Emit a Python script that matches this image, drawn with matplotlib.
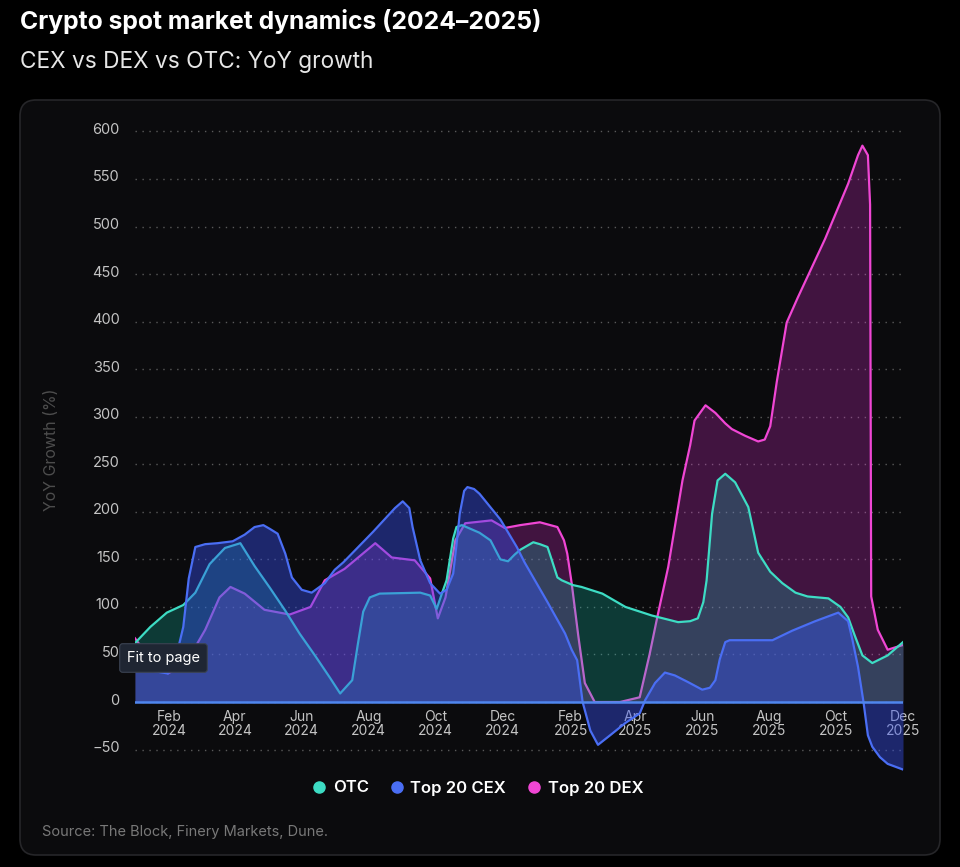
import matplotlib
matplotlib.use("Agg")
import matplotlib.pyplot as plt
import matplotlib.dates as mdates
import matplotlib.transforms as mtransforms
from matplotlib.patches import FancyBboxPatch
from matplotlib.lines import Line2D
import pandas as pd

plt.rcParams['font.family'] = ['Inter', 'DejaVu Sans']

# days since 2024-01-01 and YoY growth (%)
start = pd.Timestamp('2024-01-01')

otc_days = [0, 14, 29, 44, 55, 68, 82, 96, 109, 123,
            137, 150, 164, 178, 187, 198, 203, 208, 214, 223,
            260, 269, 275, 280, 284, 287, 290, 293, 298, 314,
            324, 333, 340, 346, 351, 363, 369, 376, 380, 385,
            389, 399, 407, 426, 447, 471, 495, 506, 513, 518,
            521, 526, 531, 538, 547, 559, 568, 579, 590, 602,
            613, 632, 643, 650, 656, 663, 672, 686, 700]
otc_vals = [62, 79, 94, 102, 115, 145, 162, 167, 143, 120,
            96, 72, 49, 25, 9, 23, 60, 95, 110, 114,
            115, 112, 98, 115, 128, 150, 172, 184, 186, 178,
            170, 150, 148, 155, 160, 168, 166, 163, 149, 131,
            128, 123, 121, 114, 100, 91, 84, 85, 88, 105,
            128, 198, 233, 240, 231, 205, 157, 137, 125, 115,
            111, 109, 100, 89, 70, 49, 41, 49, 63]

cex_days = [0, 15, 30, 37, 44, 49, 55, 64, 75, 89,
            100, 109, 117, 123, 130, 137, 143, 152, 161, 173,
            182, 190, 217, 237, 244, 250, 253, 260, 269, 278,
            284, 290, 293, 296, 300, 303, 309, 314, 333, 348,
            355, 376, 392, 398, 403, 408, 415, 422, 433, 447,
            460, 465, 474, 483, 492, 504, 517, 524, 529, 533,
            538, 542, 581, 599, 620, 641, 650, 654, 659, 664,
            668, 672, 679, 686, 700]
cex_vals = [45, 33, 30, 45, 79, 130, 163, 166, 167, 169,
            176, 184, 186, 182, 177, 156, 131, 118, 115, 125,
            139, 147, 179, 204, 211, 204, 184, 149, 125, 114,
            118, 135, 165, 198, 222, 226, 224, 219, 192, 163,
            147, 105, 72, 55, 44, 0, -30, -45, -35, -22,
            -12, 2, 20, 31, 28, 21, 13, 15, 23, 45,
            63, 65, 65, 75, 85, 94, 85, 65, 37, 0,
            -35, -47, -58, -65, -71]

dex_days = [0, 14, 30, 46, 64, 77, 87, 100, 118, 141,
            160, 173, 191, 219, 234, 255, 269, 276, 283, 292,
            301, 325, 337, 351, 369, 385, 391, 394, 398, 404,
            410, 419, 442, 460, 469, 476, 486, 499, 506, 510,
            520, 529, 538, 544, 556, 568, 574, 579, 585, 594,
            604, 629, 650, 659, 663, 668, 670, 671, 677, 686,
            700]
dex_vals = [67, 45, 30, 40, 76, 110, 121, 114, 97, 92,
            100, 128, 140, 167, 152, 149, 130, 88, 110, 170,
            188, 191, 183, 186, 189, 184, 170, 156, 125, 70,
            20, 0, 0, 5, 50, 89, 142, 233, 270, 296,
            312, 304, 293, 287, 280, 274, 276, 290, 337, 399,
            425, 487, 545, 575, 585, 575, 523, 111, 76, 55,
            60]

yticks = list(range(-50, 601, 50))

# (name, days, values, line colour, fill colour)
series = [
    ('Top 20 DEX', dex_days, dex_vals, '#f046d4', '#e632dc'),
    ('OTC', otc_days, otc_vals, '#3ddcc4', '#14c8b4'),
    ('Top 20 CEX', cex_days, cex_vals, '#4a6ef4', '#3650f0'),
]
legend_order = ['OTC', 'Top 20 CEX', 'Top 20 DEX']

fig = plt.figure(figsize=(9.6, 8.67), dpi=100, facecolor='#000000')

# card behind the chart
card = FancyBboxPatch((20, 867 - 855), 920, 755,
                      boxstyle='round,pad=0,rounding_size=16',
                      transform=mtransforms.IdentityTransform(),
                      facecolor='#0b0b0d', edgecolor='#262629', lw=1.2, zorder=-5)
fig.patches.append(card)

ax = fig.add_axes([135 / 960, 0.108, 768 / 960, 0.7536])
ax.set_facecolor('none')
ax.set_zorder(1)

fills = {'Top 20 DEX': 0.25, 'OTC': 0.25, 'Top 20 CEX': 0.42}
z = 2
for name, days, vals, lc, fc in series:
    d = start + pd.to_timedelta(days, unit='D')
    ax.fill_between(d, vals, 0, color=fc, alpha=fills[name], lw=0, zorder=z)
    ax.plot(d, vals, color=lc, lw=1.6, solid_joinstyle='round', zorder=z + 0.5)
    z += 1

ax.axhline(0, color='#4f86ee', lw=1.8, zorder=z)

ax.set_xlim(start, start + pd.Timedelta(days=700))
ax.set_ylim(-75, 612)
ax.set_yticks(yticks)
ax.grid(axis='y', color='#5a5a5a', linestyle=(0, (1, 4)), lw=1)
ax.set_axisbelow(True)

ax.xaxis.set_major_locator(mdates.MonthLocator(bymonth=[2, 4, 6, 8, 10, 12]))
ax.xaxis.set_major_formatter(mdates.DateFormatter('%b\n%Y'))
ax.spines['bottom'].set_position(('data', 0))
for s in ax.spines.values():
    s.set_visible(False)
ax.tick_params(axis='both', length=0, colors='#c4c4c4', labelsize=10)
ax.tick_params(axis='y', pad=11, labelsize=10.5)
ax.tick_params(axis='x', pad=6)
for lab in ax.get_xticklabels():
    lab.set_linespacing(1.0)
shift = mtransforms.ScaledTranslation(0, 0.03, fig.dpi_scale_trans)
for lab in ax.get_yticklabels():
    lab.set_transform(lab.get_transform() + shift)

fig.text(20 / 960, 1 - 22 / 867, 'Crypto spot market dynamics (2024\u20132025)',
         color='white', fontsize=17.8, fontweight='bold', va='center')
fig.text(20 / 960, 1 - 62 / 867, 'CEX vs DEX vs OTC: YoY growth',
         color='#e6e6e6', fontsize=16.3, va='center')
fig.text(52 / 960, 1 - 450 / 867, 'YoY Growth (%)', rotation=90,
         color='#4d4d4d', fontsize=11.5, va='center', ha='center')
fig.text(42 / 960, 1 - 832 / 867, 'Source: The Block, Finery Markets, Dune.',
         color='#787878', fontsize=10.5, va='center')

colors = {name: lc for name, _, _, lc, _ in series}
handles = [Line2D([], [], marker='o', ls='', markersize=8, color=colors[n])
           for n in legend_order]
fig.legend(handles, legend_order, loc='center', ncol=3, frameon=False,
           bbox_to_anchor=(478 / 960, 1 - 788 / 867), labelcolor='white',
           prop={'family': 'Inter', 'weight': 'semibold', 'size': 12},
           handlelength=0.8, handletextpad=0.4, columnspacing=1.3)

fig.text(127 / 960, 1 - 658 / 867, 'Fit to page', color='white', fontsize=10.5,
         va='center', zorder=20,
         bbox=dict(boxstyle='round,pad=0.5,rounding_size=0.2',
                   fc='#1f2633', ec='#3b4352', lw=0.8))

fig.savefig('out.png', dpi=100, facecolor=fig.get_facecolor())
